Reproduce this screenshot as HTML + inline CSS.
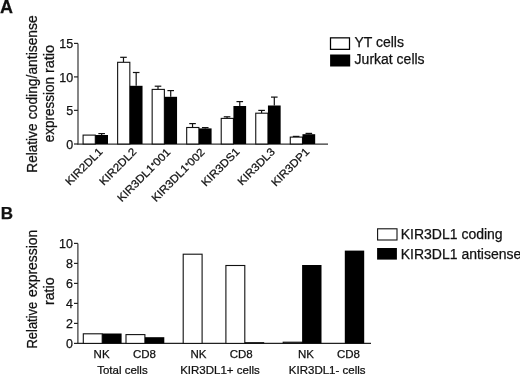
<!DOCTYPE html>
<html><head><meta charset="utf-8"><title>Figure</title>
<style>
html,body{margin:0;padding:0;background:#fff;width:520px;height:374px;overflow:hidden}
svg{display:block}
text{font-family:"Liberation Sans", sans-serif;fill:#111;stroke:#111;stroke-width:0.25px}
</style></head><body>
<svg width="520" height="374" viewBox="0 0 520 374">
<rect width="520" height="374" fill="#fff"/>
<text x="-0.1" y="12.7" font-size="18" text-anchor="start" font-weight="bold">A</text>
<line x1="78.0" y1="43.4" x2="78.0" y2="144.6" stroke="#222" stroke-width="1.1"/>
<line x1="74.0" y1="43.4" x2="78.0" y2="43.4" stroke="#222" stroke-width="1.2"/>
<text x="73.2" y="48.0" font-size="13.2" text-anchor="end" font-weight="normal" textLength="13.90" lengthAdjust="spacingAndGlyphs">15</text>
<line x1="74.0" y1="76.9" x2="78.0" y2="76.9" stroke="#222" stroke-width="1.2"/>
<text x="73.2" y="81.5" font-size="13.2" text-anchor="end" font-weight="normal" textLength="13.90" lengthAdjust="spacingAndGlyphs">10</text>
<line x1="74.0" y1="110.35" x2="78.0" y2="110.35" stroke="#222" stroke-width="1.2"/>
<text x="73.2" y="114.95" font-size="13.2" text-anchor="end" font-weight="normal" textLength="6.95" lengthAdjust="spacingAndGlyphs">5</text>
<line x1="74.0" y1="144.0" x2="78.0" y2="144.0" stroke="#222" stroke-width="1.2"/>
<text x="73.2" y="148.6" font-size="13.2" text-anchor="end" font-weight="normal" textLength="6.95" lengthAdjust="spacingAndGlyphs">0</text>
<line x1="77.4" y1="144.2" x2="328.0" y2="144.2" stroke="#333" stroke-width="1.3"/>
<line x1="101.65" y1="133.6" x2="101.65" y2="135.0" stroke="#111" stroke-width="1.2"/>
<line x1="98.35" y1="133.6" x2="104.95" y2="133.6" stroke="#111" stroke-width="1.2"/>
<rect x="83.10" y="135.10" width="12.20" height="8.90" fill="#fff" stroke="#111" stroke-width="1.1"/>
<rect x="95.30" y="135.00" width="12.70" height="9.00" fill="#000"/>
<line x1="123.48" y1="57.3" x2="123.48" y2="62.3" stroke="#111" stroke-width="1.2"/>
<line x1="120.18" y1="57.3" x2="126.78" y2="57.3" stroke="#111" stroke-width="1.2"/>
<line x1="136.18" y1="72.5" x2="136.18" y2="85.8" stroke="#111" stroke-width="1.2"/>
<line x1="132.88" y1="72.5" x2="139.48" y2="72.5" stroke="#111" stroke-width="1.2"/>
<rect x="117.63" y="62.30" width="12.20" height="81.70" fill="#fff" stroke="#111" stroke-width="1.1"/>
<rect x="129.83" y="85.80" width="12.70" height="58.20" fill="#000"/>
<line x1="158.01" y1="86.2" x2="158.01" y2="89.4" stroke="#111" stroke-width="1.2"/>
<line x1="154.71" y1="86.2" x2="161.31" y2="86.2" stroke="#111" stroke-width="1.2"/>
<line x1="170.71" y1="90.6" x2="170.71" y2="96.8" stroke="#111" stroke-width="1.2"/>
<line x1="167.41" y1="90.6" x2="174.01" y2="90.6" stroke="#111" stroke-width="1.2"/>
<rect x="152.16" y="89.40" width="12.20" height="54.60" fill="#fff" stroke="#111" stroke-width="1.1"/>
<rect x="164.36" y="96.80" width="12.70" height="47.20" fill="#000"/>
<line x1="192.54" y1="123.6" x2="192.54" y2="127.5" stroke="#111" stroke-width="1.2"/>
<line x1="189.24" y1="123.6" x2="195.84" y2="123.6" stroke="#111" stroke-width="1.2"/>
<line x1="205.24" y1="127.6" x2="205.24" y2="128.4" stroke="#111" stroke-width="1.2"/>
<line x1="201.94" y1="127.6" x2="208.54" y2="127.6" stroke="#111" stroke-width="1.2"/>
<rect x="186.69" y="127.50" width="12.20" height="16.50" fill="#fff" stroke="#111" stroke-width="1.1"/>
<rect x="198.89" y="128.40" width="12.70" height="15.60" fill="#000"/>
<line x1="227.07" y1="116.8" x2="227.07" y2="118.4" stroke="#111" stroke-width="1.2"/>
<line x1="223.77" y1="116.8" x2="230.37" y2="116.8" stroke="#111" stroke-width="1.2"/>
<line x1="239.77" y1="101.6" x2="239.77" y2="106.0" stroke="#111" stroke-width="1.2"/>
<line x1="236.47" y1="101.6" x2="243.07" y2="101.6" stroke="#111" stroke-width="1.2"/>
<rect x="221.22" y="118.40" width="12.20" height="25.60" fill="#fff" stroke="#111" stroke-width="1.1"/>
<rect x="233.42" y="106.00" width="12.70" height="38.00" fill="#000"/>
<line x1="261.6" y1="110.4" x2="261.6" y2="113.2" stroke="#111" stroke-width="1.2"/>
<line x1="258.3" y1="110.4" x2="264.9" y2="110.4" stroke="#111" stroke-width="1.2"/>
<line x1="274.3" y1="97.1" x2="274.3" y2="105.5" stroke="#111" stroke-width="1.2"/>
<line x1="271.0" y1="97.1" x2="277.6" y2="97.1" stroke="#111" stroke-width="1.2"/>
<rect x="255.75" y="113.20" width="12.20" height="30.80" fill="#fff" stroke="#111" stroke-width="1.1"/>
<rect x="267.95" y="105.50" width="12.70" height="38.50" fill="#000"/>
<line x1="296.13" y1="136.4" x2="296.13" y2="137.1" stroke="#111" stroke-width="1.2"/>
<line x1="292.83" y1="136.4" x2="299.43" y2="136.4" stroke="#111" stroke-width="1.2"/>
<line x1="308.83" y1="133.4" x2="308.83" y2="134.2" stroke="#111" stroke-width="1.2"/>
<line x1="305.53" y1="133.4" x2="312.13" y2="133.4" stroke="#111" stroke-width="1.2"/>
<rect x="290.28" y="137.10" width="12.20" height="6.90" fill="#fff" stroke="#111" stroke-width="1.1"/>
<rect x="302.48" y="134.20" width="12.70" height="9.80" fill="#000"/>
<text x="103.3" y="152.5" font-size="11.0" text-anchor="end" font-weight="normal" transform="rotate(-45 103.3 152.5)" textLength="47.44" lengthAdjust="spacingAndGlyphs">KIR2DL1</text>
<text x="137.23" y="152.5" font-size="11.0" text-anchor="end" font-weight="normal" transform="rotate(-45 137.23 152.5)" textLength="47.44" lengthAdjust="spacingAndGlyphs">KIR2DL2</text>
<text x="171.06" y="153.0" font-size="11.0" text-anchor="end" font-weight="normal" transform="rotate(-45 171.06 153.0)" textLength="69.88" lengthAdjust="spacingAndGlyphs">KIR3DL1<tspan font-size="7.5" dy="-1.6">*</tspan><tspan dy="1.6">001</tspan></text>
<text x="205.39" y="153.0" font-size="11.0" text-anchor="end" font-weight="normal" transform="rotate(-45 205.39 153.0)" textLength="69.88" lengthAdjust="spacingAndGlyphs">KIR3DL1<tspan font-size="7.5" dy="-1.6">*</tspan><tspan dy="1.6">002</tspan></text>
<text x="240.32" y="152.5" font-size="11.0" text-anchor="end" font-weight="normal" transform="rotate(-45 240.32 152.5)" textLength="48.73" lengthAdjust="spacingAndGlyphs">KIR3DS1</text>
<text x="275.55" y="152.5" font-size="11.0" text-anchor="end" font-weight="normal" transform="rotate(-45 275.55 152.5)" textLength="47.44" lengthAdjust="spacingAndGlyphs">KIR3DL3</text>
<text x="310.18" y="152.5" font-size="11.0" text-anchor="end" font-weight="normal" transform="rotate(-45 310.18 152.5)" textLength="48.73" lengthAdjust="spacingAndGlyphs">KIR3DP1</text>
<text x="36.9" y="172.62" font-size="14.2" text-anchor="start" font-weight="normal" transform="rotate(-90 36.9 172.62)" textLength="49.07" lengthAdjust="spacingAndGlyphs">Relative</text>
<text x="36.9" y="119.23" font-size="14.2" text-anchor="start" font-weight="normal" transform="rotate(-90 36.9 119.23)" textLength="103.89" lengthAdjust="spacingAndGlyphs">coding/antisense</text>
<text x="53.65" y="142.15" font-size="14.2" text-anchor="start" font-weight="normal" transform="rotate(-90 53.65 142.15)" textLength="65.26" lengthAdjust="spacingAndGlyphs">expression</text>
<text x="53.65" y="73.11" font-size="14.2" text-anchor="start" font-weight="normal" transform="rotate(-90 53.65 73.11)" textLength="28.32" lengthAdjust="spacingAndGlyphs">ratio</text>
<text x="36.9" y="348.48" font-size="14.2" text-anchor="start" font-weight="normal" transform="rotate(-90 36.9 348.48)" textLength="46.68" lengthAdjust="spacingAndGlyphs">Relative</text>
<text x="36.9" y="297.04" font-size="14.2" text-anchor="start" font-weight="normal" transform="rotate(-90 36.9 297.04)" textLength="67.33" lengthAdjust="spacingAndGlyphs">expression</text>
<text x="53.7" y="304.99" font-size="14.2" text-anchor="start" font-weight="normal" transform="rotate(-90 53.7 304.99)" textLength="27.61" lengthAdjust="spacingAndGlyphs">ratio</text>
<rect x="330.50" y="37.85" width="19.00" height="11.50" fill="#fff" stroke="#000" stroke-width="1.25"/>
<rect x="330.10" y="54.50" width="20.10" height="12.00" fill="#000"/>
<text x="354.4" y="47.2" font-size="14" text-anchor="start" font-weight="normal">YT cells</text>
<text x="354.6" y="64.1" font-size="14" text-anchor="start" font-weight="normal">Jurkat cells</text>
<text x="0.8" y="218.6" font-size="17" text-anchor="start" font-weight="bold">B</text>
<line x1="77.9" y1="243.4" x2="77.9" y2="344.0" stroke="#222" stroke-width="1.1"/>
<line x1="74.0" y1="243.4" x2="77.9" y2="243.4" stroke="#222" stroke-width="1.2"/>
<text x="73.0" y="247.9" font-size="13.2" text-anchor="end" font-weight="normal" textLength="13.90" lengthAdjust="spacingAndGlyphs">10</text>
<line x1="74.0" y1="263.4" x2="77.9" y2="263.4" stroke="#222" stroke-width="1.2"/>
<text x="73.0" y="267.9" font-size="13.2" text-anchor="end" font-weight="normal" textLength="6.95" lengthAdjust="spacingAndGlyphs">8</text>
<line x1="74.0" y1="283.4" x2="77.9" y2="283.4" stroke="#222" stroke-width="1.2"/>
<text x="73.0" y="287.9" font-size="13.2" text-anchor="end" font-weight="normal" textLength="6.95" lengthAdjust="spacingAndGlyphs">6</text>
<line x1="74.0" y1="303.4" x2="77.9" y2="303.4" stroke="#222" stroke-width="1.2"/>
<text x="73.0" y="307.9" font-size="13.2" text-anchor="end" font-weight="normal" textLength="6.95" lengthAdjust="spacingAndGlyphs">4</text>
<line x1="74.0" y1="323.4" x2="77.9" y2="323.4" stroke="#222" stroke-width="1.2"/>
<text x="73.0" y="327.9" font-size="13.2" text-anchor="end" font-weight="normal" textLength="6.95" lengthAdjust="spacingAndGlyphs">2</text>
<line x1="74.0" y1="343.4" x2="77.9" y2="343.4" stroke="#222" stroke-width="1.2"/>
<text x="73.0" y="347.9" font-size="13.2" text-anchor="end" font-weight="normal" textLength="6.95" lengthAdjust="spacingAndGlyphs">0</text>
<line x1="77.3" y1="343.4" x2="371.0" y2="343.4" stroke="#222" stroke-width="1.1"/>
<rect x="83.30" y="333.80" width="18.90" height="9.60" fill="#fff" stroke="#111" stroke-width="1.1"/>
<rect x="102.20" y="333.50" width="19.40" height="9.90" fill="#000"/>
<rect x="126.00" y="334.60" width="18.90" height="8.80" fill="#fff" stroke="#111" stroke-width="1.1"/>
<rect x="144.90" y="337.20" width="19.40" height="6.20" fill="#000"/>
<rect x="183.20" y="254.20" width="18.90" height="89.20" fill="#fff" stroke="#111" stroke-width="1.1"/>
<rect x="225.90" y="265.50" width="18.90" height="77.90" fill="#fff" stroke="#111" stroke-width="1.1"/>
<rect x="244.80" y="342.20" width="19.40" height="1.20" fill="#000"/>
<rect x="283.20" y="342.20" width="18.90" height="1.20" fill="#fff" stroke="#111" stroke-width="1.1"/>
<rect x="302.10" y="265.00" width="19.40" height="78.40" fill="#000"/>
<rect x="344.80" y="250.60" width="19.40" height="92.80" fill="#000"/>
<text x="101.6" y="357.8" font-size="11.5" text-anchor="middle" font-weight="normal">NK</text>
<text x="144.4" y="357.8" font-size="11.5" text-anchor="middle" font-weight="normal">CD8</text>
<text x="198.5" y="357.8" font-size="11.5" text-anchor="middle" font-weight="normal">NK</text>
<text x="241.2" y="357.8" font-size="11.5" text-anchor="middle" font-weight="normal">CD8</text>
<text x="306.0" y="357.8" font-size="11.5" text-anchor="middle" font-weight="normal">NK</text>
<text x="348.4" y="357.8" font-size="11.5" text-anchor="middle" font-weight="normal">CD8</text>
<text x="122.4" y="374.0" font-size="11.5" text-anchor="middle" font-weight="normal">Total cells</text>
<text x="220.0" y="374.0" font-size="11.5" text-anchor="middle" font-weight="normal">KIR3DL1+ cells</text>
<text x="327.2" y="374.0" font-size="11.5" text-anchor="middle" font-weight="normal">KIR3DL1- cells</text>
<rect x="377.60" y="228.80" width="19.40" height="11.20" fill="#fff" stroke="#111" stroke-width="1.1"/>
<rect x="377.10" y="248.00" width="19.80" height="11.60" fill="#000"/>
<text x="400.7" y="238.7" font-size="14" text-anchor="start" font-weight="normal">KIR3DL1 coding</text>
<text x="400.7" y="259.4" font-size="14" text-anchor="start" font-weight="normal">KIR3DL1 antisense</text>
</svg>
</body></html>
